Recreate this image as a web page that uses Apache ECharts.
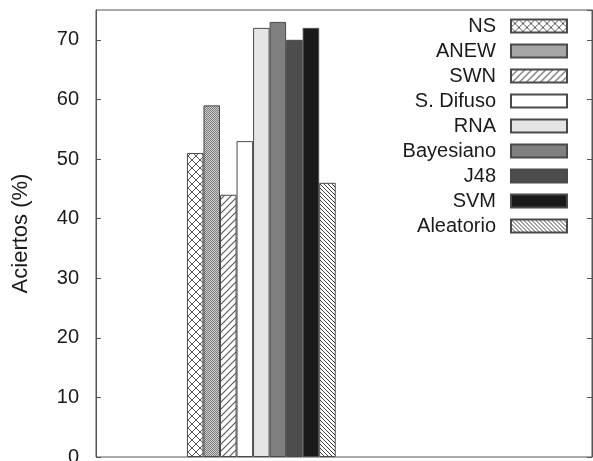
<!DOCTYPE html>
<html>
<head>
<meta charset="utf-8">
<script src="https://cdn.jsdelivr.net/npm/echarts@6/dist/echarts.min.js"></script>
<style>
  html, body { margin: 0; padding: 0; background: #fff; }
  #chart { width: 593px; height: 461px; }
</style>
</head>
<body>
<div id="chart"></div>
<script>
// Method names (legend order) and accuracy per method, in percent
const methods = ['NS', 'ANEW', 'SWN', 'S. Difuso', 'RNA', 'Bayesiano', 'J48', 'SVM', 'Aleatorio'];
const aciertos = [51, 59, 44, 53, 72, 73, 70, 72, 46];

// x range runs from -1 to 2; the single cluster of bars sits at 0
const xSlots = ['-1', '0', '1', '2'];
const clusterSlot = 1;

// y axis range and tick step
const yMin = 0;
const yMax = 75;
const yStep = 10;

const FONT = '"Liberation Sans", Arial, Helvetica, sans-serif';

// --- fill patterns for the hatched bars ---
function tile(w, h, draw) {
  const c = document.createElement('canvas');
  c.width = w; c.height = h;
  const g = c.getContext('2d');
  g.fillStyle = '#fff';
  g.fillRect(0, 0, w, h);
  draw(g, w, h);
  return { image: c, repeat: 'repeat' };
}

function crossHatch() {
  return tile(8, 8, (g, w, h) => {
    g.strokeStyle = '#555';
    g.lineWidth = 1;
    g.beginPath();
    g.moveTo(0, 0); g.lineTo(w, h);
    g.moveTo(w, 0); g.lineTo(0, h);
    g.stroke();
  });
}

function fineChecker() {
  return tile(2, 2, (g) => {
    g.fillStyle = '#d0d0d0';
    g.fillRect(0, 0, 2, 2);
    g.fillStyle = '#7a7a7a';
    g.fillRect(0, 0, 1, 1);
    g.fillRect(1, 1, 1, 1);
  });
}

function slashes(size, color, width, back) {
  return tile(size, size, (g, w, h) => {
    g.strokeStyle = color;
    g.lineWidth = width;
    g.beginPath();
    if (back) {
      g.moveTo(-w, 0); g.lineTo(w, 2 * h);
      g.moveTo(0, 0); g.lineTo(w, h);
      g.moveTo(0, -h); g.lineTo(2 * w, h);
    } else {
      g.moveTo(0, h); g.lineTo(w, 0);
      g.moveTo(-w, h); g.lineTo(w, -h);
      g.moveTo(0, 2 * h); g.lineTo(2 * w, 0);
    }
    g.stroke();
  });
}

const fills = [
  crossHatch(),
  fineChecker(),
  slashes(7, '#555', 1.1, false),
  '#ffffff',
  '#e5e5e5',
  '#808080',
  '#4d4d4d',
  '#1a1a1a',
  slashes(4, '#444', 1, true)
];

const series = methods.map((name, i) => ({
  name: name,
  type: 'bar',
  barGap: '0%',
  barCategoryGap: '10%',
  data: xSlots.map((_, k) => (k === clusterSlot ? aciertos[i] : '-')),
  itemStyle: {
    color: fills[i],
    borderColor: '#4a4a4a',
    borderWidth: 1
  },
  emphasis: { disabled: true },
  animation: false
}));

const yTick = {
  show: true,
  inside: true,
  length: 5,
  lineStyle: { color: '#555', width: 1 }
};

const chart = echarts.init(document.getElementById('chart'), null, { renderer: 'canvas' });
chart.setOption({
  animation: false,
  backgroundColor: '#fff',
  grid: {
    left: 96, right: 1, top: 10, bottom: 4,
    outerBoundsMode: 'none',
    containLabel: false,
    show: true,
    borderColor: '#555',
    borderWidth: 1,
    backgroundColor: 'transparent'
  },
  legend: {
    orient: 'vertical',
    right: 20,
    top: 11,
    align: 'right',
    icon: 'rect',
    itemWidth: 56,
    itemHeight: 13,
    itemGap: 5,
    data: methods,
    textStyle: {
      fontFamily: FONT,
      fontSize: 20,
      lineHeight: 20,
      color: '#1a1a1a',
      padding: [0, 10, 0, 0]
    },
    selectedMode: false
  },
  xAxis: {
    type: 'category',
    data: xSlots,
    boundaryGap: false,
    axisLine: { show: false },
    axisTick: { show: false },
    axisLabel: { show: false },
    splitLine: { show: false }
  },
  yAxis: [
    {
      type: 'value',
      min: yMin,
      max: yMax,
      interval: yStep,
      name: 'Aciertos (%)',
      nameLocation: 'middle',
      nameGap: 64,
      nameTextStyle: { fontFamily: FONT, fontSize: 22, color: '#1a1a1a' },
      axisLine: { show: true, lineStyle: { color: '#555', width: 1 } },
      axisTick: yTick,
      axisLabel: {
        fontFamily: FONT,
        fontSize: 20,
        color: '#1a1a1a',
        margin: 17,
        showMaxLabel: false
      },
      splitLine: { show: false }
    },
    {
      type: 'value',
      position: 'right',
      min: yMin,
      max: yMax,
      interval: yStep,
      axisLine: { show: true, lineStyle: { color: '#555', width: 1 } },
      axisTick: yTick,
      axisLabel: { show: false },
      splitLine: { show: false }
    }
  ],
  series: series
});
</script>
</body>
</html>
